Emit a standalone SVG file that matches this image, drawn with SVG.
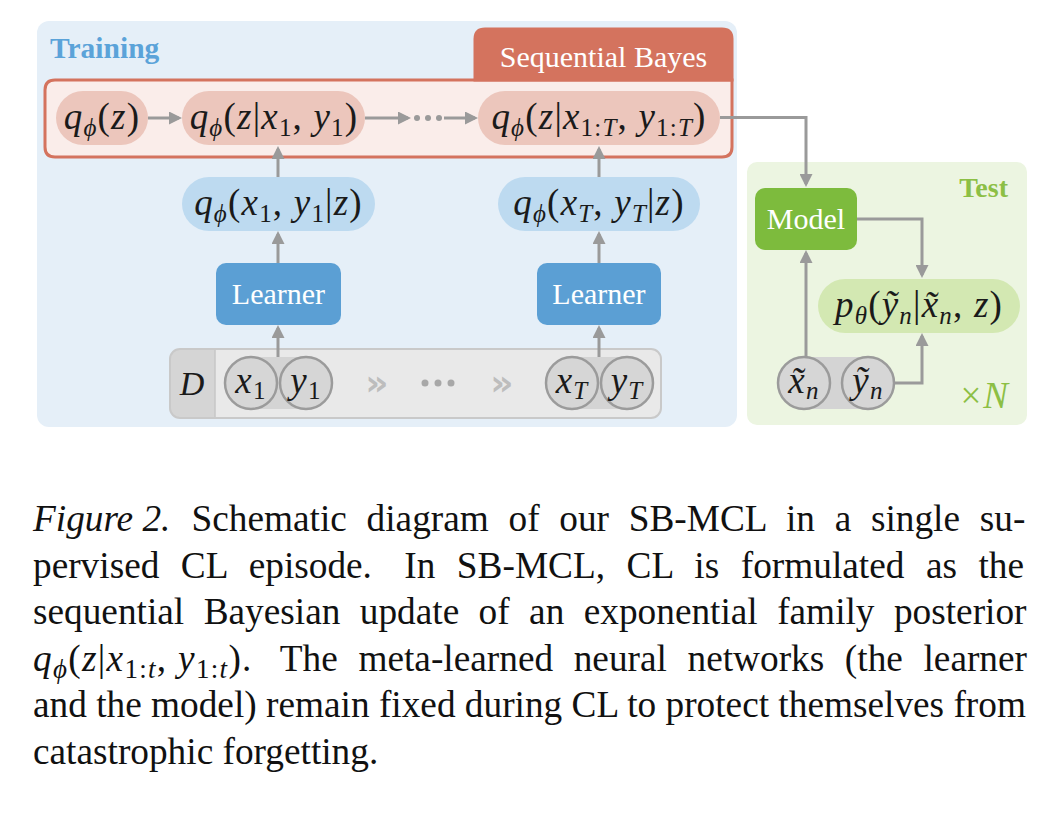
<svg xmlns="http://www.w3.org/2000/svg" width="1052" height="840" viewBox="0 0 1052 840">
<defs>
<marker id="ah" markerUnits="userSpaceOnUse" markerWidth="13" markerHeight="13" viewBox="0 0 13 13" refX="10" refY="6.5" orient="auto">
<path d="M0,0 L13,6.5 L0,13 Z" fill="#9A9A9A"/>
</marker>
<style>
.lbl{font-family:"Liberation Serif","Times New Roman",serif;font-size:30px;text-anchor:middle;fill:#fff}
.m{font-family:"Liberation Serif","DejaVu Serif",serif;font-size:37px;text-anchor:middle;fill:#1a1a1a;letter-spacing:1.2px}
.i{font-style:italic}
.sb{font-size:25px}
.cs{font-size:27px}
.cap{font-family:"Liberation Serif","Times New Roman",serif;font-size:37.3px;fill:#111}
.conn{fill:none;stroke:#9A9A9A;stroke-width:3;marker-end:url(#ah)}
.circ{fill:#D6D6D6;stroke:#9B9B9B;stroke-width:2.5}
.band{fill:#D4D4D4}
.rpill{fill:#ECC6BC}
.bpill{fill:#BDDAF0}
.learn{fill:#5B9FD4}
.chev{font-family:"DejaVu Sans",sans-serif;font-size:36px;font-weight:bold;fill:#BDBDBD;text-anchor:middle}
</style>
</defs>

<g id="training">
<rect x="37" y="21" width="700" height="406" rx="12" fill="#E5EFF8"/>
<text x="50" y="58" font-family="Liberation Serif,serif" font-size="29.5" font-weight="bold" fill="#5BA3D9">Training</text>
</g>

<g id="sequential-bayes">
<path d="M55,80 H732 V147 Q732,157 722,157 H55 Q45,157 45,147 V90 Q45,80 55,80 Z" fill="#FAEDEA" stroke="#D4735E" stroke-width="3"/>
<path d="M473.5,81.5 V39 Q473.5,27.5 485,27.5 H722 Q733.5,27.5 733.5,39 V81.5 Z" fill="#D4735E"/>
<text class="lbl" x="603.5" y="67">Sequential Bayes</text>
</g>

<g id="q-prior">
<rect class="rpill" x="56" y="91" width="92" height="54" rx="27"/>
<text class="m" x="102" y="129"><tspan class="i">q</tspan><tspan class="i sb" dy="7">ϕ</tspan><tspan dy="-7">(</tspan><tspan class="i">z</tspan>)</text>
</g>

<g id="q-post-1">
<rect class="rpill" x="182" y="91" width="183" height="54" rx="27"/>
<text class="m" x="274" y="129"><tspan class="i">q</tspan><tspan class="i sb" dy="7">ϕ</tspan><tspan dy="-7">(</tspan><tspan class="i">z</tspan>|<tspan class="i">x</tspan><tspan class="sb" dy="7">1</tspan><tspan dy="-7">, </tspan><tspan class="i">y</tspan><tspan class="sb" dy="7">1</tspan><tspan dy="-7">)</tspan></text>
</g>

<g id="q-post-T">
<rect class="rpill" x="478" y="91" width="242" height="54" rx="27"/>
<text class="m" x="599" y="129"><tspan class="i">q</tspan><tspan class="i sb" dy="7">ϕ</tspan><tspan dy="-7">(</tspan><tspan class="i">z</tspan>|<tspan class="i">x</tspan><tspan class="sb" dy="7">1:</tspan><tspan class="i sb">T</tspan><tspan dy="-7">, </tspan><tspan class="i">y</tspan><tspan class="sb" dy="7">1:</tspan><tspan class="i sb">T</tspan><tspan dy="-7">)</tspan></text>
</g>

<g id="q-like-1">
<rect class="bpill" x="182" y="177" width="193" height="54" rx="27"/>
<text class="m" x="278.5" y="215"><tspan class="i">q</tspan><tspan class="i sb" dy="7">ϕ</tspan><tspan dy="-7">(</tspan><tspan class="i">x</tspan><tspan class="sb" dy="7">1</tspan><tspan dy="-7">, </tspan><tspan class="i">y</tspan><tspan class="sb" dy="7">1</tspan><tspan dy="-7">|</tspan><tspan class="i">z</tspan>)</text>
</g>

<g id="q-like-T">
<rect class="bpill" x="498" y="177" width="202" height="54" rx="27"/>
<text class="m" x="599" y="215"><tspan class="i">q</tspan><tspan class="i sb" dy="7">ϕ</tspan><tspan dy="-7">(</tspan><tspan class="i">x</tspan><tspan class="i sb" dy="7">T</tspan><tspan dy="-7">, </tspan><tspan class="i">y</tspan><tspan class="i sb" dy="7">T</tspan><tspan dy="-7">|</tspan><tspan class="i">z</tspan>)</text>
</g>

<g id="learner-1">
<rect class="learn" x="216" y="263" width="125" height="62" rx="10"/>
<text class="lbl" x="278.5" y="304">Learner</text>
</g>

<g id="learner-T">
<rect class="learn" x="537" y="263" width="124" height="62" rx="10"/>
<text class="lbl" x="599" y="304">Learner</text>
</g>

<g id="data">
<rect x="170" y="349" width="491" height="69" rx="10" fill="#E9E9E9"/>
<path d="M215,349 H180 Q170,349 170,359 V408 Q170,418 180,418 H215 Z" fill="#D5D5D5"/>
<line x1="215" y1="349" x2="215" y2="418" stroke="#C6C6C6" stroke-width="1.5"/>
<rect x="170" y="349" width="491" height="69" rx="10" fill="none" stroke="#C9C9C9" stroke-width="2"/>
<text x="192" y="395" font-family="Liberation Serif,serif" font-size="34" font-style="italic" text-anchor="middle" fill="#1a1a1a">D</text>
<rect class="band" x="251" y="357" width="55" height="52"/>
<rect class="band" x="572" y="357" width="55" height="52"/>
<circle class="circ" cx="251" cy="383" r="26"/>
<circle class="circ" cx="306" cy="383" r="26"/>
<circle class="circ" cx="572" cy="383" r="26"/>
<circle class="circ" cx="627" cy="383" r="26"/>
<text class="m" x="251" y="393"><tspan class="i">x</tspan><tspan class="sb" dy="6">1</tspan></text>
<text class="m" x="306" y="393"><tspan class="i">y</tspan><tspan class="sb" dy="6">1</tspan></text>
<text class="m" x="572" y="393"><tspan class="i">x</tspan><tspan class="i sb" dy="6">T</tspan></text>
<text class="m" x="627" y="393"><tspan class="i">y</tspan><tspan class="i sb" dy="6">T</tspan></text>
<text class="chev" x="377" y="395">»</text>
<text class="chev" x="502" y="395">»</text>
<circle cx="425" cy="383" r="3.5" fill="#A8A8A8"/>
<circle cx="438" cy="383" r="3.5" fill="#A8A8A8"/>
<circle cx="451" cy="383" r="3.5" fill="#A8A8A8"/>
</g>

<g id="test">
<rect x="747" y="162" width="280" height="263" rx="10" fill="#ECF5E1"/>
<text x="1008" y="197" font-family="Liberation Serif,serif" font-size="28" font-weight="bold" fill="#8CBF45" text-anchor="end">Test</text>
<text x="1008" y="408" font-family="Liberation Serif,serif" font-size="37" fill="#8CBF45" text-anchor="end">×<tspan font-style="italic" dx="2">N</tspan></text>
</g>

<g id="model">
<rect x="755" y="188" width="102" height="62" rx="10" fill="#7DBB3D"/>
<text class="lbl" x="806" y="229">Model</text>
</g>

<g id="predictive">
<rect x="818" y="279" width="202" height="54" rx="27" fill="#D3E8B2"/>
<text class="m" x="919" y="317"><tspan class="i">p</tspan><tspan class="i sb" dy="7">θ</tspan><tspan dy="-7">(</tspan><tspan class="i">ỹ</tspan><tspan class="i sb" dy="7">n</tspan><tspan dy="-7">|</tspan><tspan class="i">x̃</tspan><tspan class="i sb" dy="7">n</tspan><tspan dy="-7">, </tspan><tspan class="i">z</tspan>)</text>
</g>

<g id="test-pair">
<rect class="band" x="804" y="357" width="64" height="52"/>
<circle class="circ" cx="804" cy="383" r="26"/>
<circle class="circ" cx="868" cy="383" r="26"/>
<text class="m" x="804" y="393"><tspan class="i">x̃</tspan><tspan class="i sb" dy="6">n</tspan></text>
<text class="m" x="868" y="393"><tspan class="i">ỹ</tspan><tspan class="i sb" dy="6">n</tspan></text>
</g>

<g id="connectors">
<line class="conn" x1="148" y1="118" x2="179" y2="118"/>
<line class="conn" x1="365" y1="118" x2="408" y2="118"/>
<circle cx="417" cy="118" r="3" fill="#9A9A9A"/>
<circle cx="428" cy="118" r="3" fill="#9A9A9A"/>
<circle cx="439" cy="118" r="3" fill="#9A9A9A"/>
<line class="conn" x1="444" y1="118" x2="475" y2="118"/>
<line class="conn" x1="278" y1="177" x2="278" y2="149"/>
<line class="conn" x1="278" y1="263" x2="278" y2="234"/>
<line class="conn" x1="278" y1="357" x2="278" y2="328"/>
<line class="conn" x1="599" y1="177" x2="599" y2="149"/>
<line class="conn" x1="599" y1="263" x2="599" y2="234"/>
<line class="conn" x1="599" y1="357" x2="599" y2="328"/>
<path class="conn" d="M720,117.5 H806 V184"/>
<path class="conn" d="M857,219 H922 V275"/>
<path class="conn" d="M806,357 V253"/>
<path class="conn" d="M894,383 H922 V336"/>
</g>

<g id="caption">
<text class="cap i" x="33" y="531">Figure 2.</text>
<text class="cap" x="191.5" y="531" word-spacing="10.4">Schematic diagram of our SB-MCL in a single su-</text>
<text class="cap" x="33" y="578" word-spacing="12.2">pervised CL episode.<tspan dx="10.8"> In SB-MCL, CL is formulated as the</tspan></text>
<text class="cap" x="33" y="624" word-spacing="10.1">sequential Bayesian update of an exponential family posterior</text>
<text class="cap" x="33" y="671" letter-spacing="1.3"><tspan class="i">q</tspan><tspan class="i cs" dy="7">ϕ</tspan><tspan dy="-7">(</tspan><tspan class="i">z</tspan>|<tspan class="i">x</tspan><tspan class="cs" dy="7">1:</tspan><tspan class="i cs">t</tspan><tspan dy="-7">, </tspan><tspan class="i">y</tspan><tspan class="cs" dy="7">1:</tspan><tspan class="i cs">t</tspan><tspan dy="-7">).</tspan></text>
<text class="cap" x="1027" y="671" text-anchor="end" word-spacing="11.3">The meta-learned neural networks (the learner</text>
<text class="cap" x="33" y="717">and the model) remain fixed during CL to protect themselves from</text>
<text class="cap" x="33" y="764">catastrophic forgetting.</text>
</g>
</svg>
